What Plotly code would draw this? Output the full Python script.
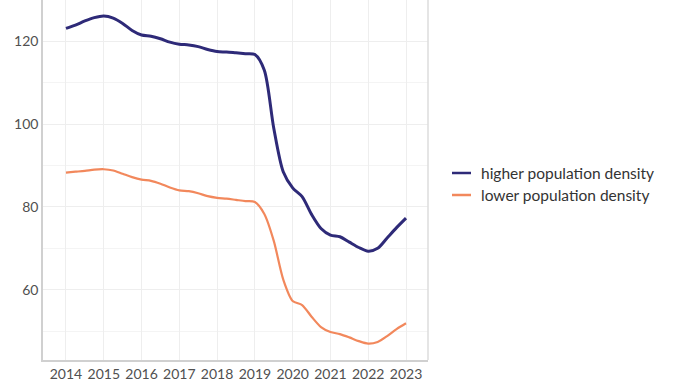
import plotly.graph_objects as go

# Quarterly observation points (decimal years)
years = [2014 + q / 4 for q in range(37)]

higher_density = [
    123.1, 123.9, 124.9, 125.7, 126.1, 125.6, 124.3, 122.6,
    121.5, 121.2, 120.6, 119.8, 119.3, 119.1, 118.7, 118.0,
    117.5, 117.4, 117.2, 117.0, 116.8, 113.0, 99.0, 88.5,
    84.6, 82.5, 78.2, 74.8, 73.2, 72.8, 71.5, 70.2,
    69.3, 70.0, 72.5, 75.0, 77.3,
]
lower_density = [
    88.3, 88.5, 88.7, 89.0, 89.1, 88.8, 88.0, 87.2,
    86.6, 86.3, 85.6, 84.7, 84.0, 83.8, 83.3, 82.6,
    82.2, 82.0, 81.7, 81.4, 81.2, 78.3, 71.8, 62.5,
    57.3, 56.3, 53.5, 51.0, 49.8, 49.3, 48.5, 47.6,
    47.0, 47.4, 48.8, 50.5, 51.9,
]

series_names = ["higher population density", "lower population density"]
series_colors = ["#2e2a78", "#f2885c"]
series_widths = [3, 2.2]
year_ticks = list(range(2014, 2024))

W, H = 676, 387
L, R, T, B = 43, 248, 0, 27
plot_w = W - L - R
plot_h = H - T - B

FONT = "Lato"

fig = go.Figure()
for name, vals, col, lw in zip(series_names, [higher_density, lower_density],
                               series_colors, series_widths):
    fig.add_trace(go.Scatter(
        x=years, y=vals, mode="lines", name=name,
        line=dict(color=col, width=lw, shape="spline", smoothing=0.8),
        showlegend=False,
    ))

# Hand-built legend to the right of the panel
shapes = []
annotations = []
for i, (name, col) in enumerate(zip(series_names, series_colors)):
    py = 173 + 22 * i
    yp = (H - B - py) / plot_h
    shapes.append(dict(type="line", xref="paper", yref="paper",
                       x0=(452 - L) / plot_w, x1=(471 - L) / plot_w,
                       y0=yp, y1=yp, line=dict(color=col, width=2.5)))
    annotations.append(dict(xref="paper", yref="paper",
                            x=(479 - L) / plot_w, y=yp, text=name,
                            showarrow=False, xanchor="left", yanchor="middle",
                            font=dict(family=FONT, size=15.5, color="#333333")))

# Right-hand panel border
shapes.append(dict(type="line", xref="paper", yref="paper", x0=1, x1=1,
                   y0=0, y1=1, line=dict(color="#dcdcdc", width=1.5)))

fig.update_layout(
    width=W, height=H,
    margin=dict(l=L, r=R, t=T, b=B),
    paper_bgcolor="white", plot_bgcolor="white",
    shapes=shapes, annotations=annotations,
    xaxis=dict(
        range=[2013.392, 2023.582],
        tickvals=year_ticks, ticktext=[str(y) for y in year_ticks],
        showgrid=True, gridcolor="#eeeeee", gridwidth=1,
        showline=True, linecolor="#d0d0d0", linewidth=1.5,
        ticks="", zeroline=False,
        tickfont=dict(family=FONT, size=14, color="#505050"),
    ),
    yaxis=dict(
        range=[43.04, 129.96],
        tickvals=[60, 80, 100, 120],
        showgrid=True, gridcolor="#eeeeee", gridwidth=1,
        minor=dict(tickvals=[50, 70, 90, 110], showgrid=True,
                   gridcolor="#f4f4f4", gridwidth=1),
        showline=True, linecolor="#d0d0d0", linewidth=1.5,
        ticks="", zeroline=False,
        tickfont=dict(family=FONT, size=14, color="#505050"),
    ),
)

fig.write_html("out.html")
